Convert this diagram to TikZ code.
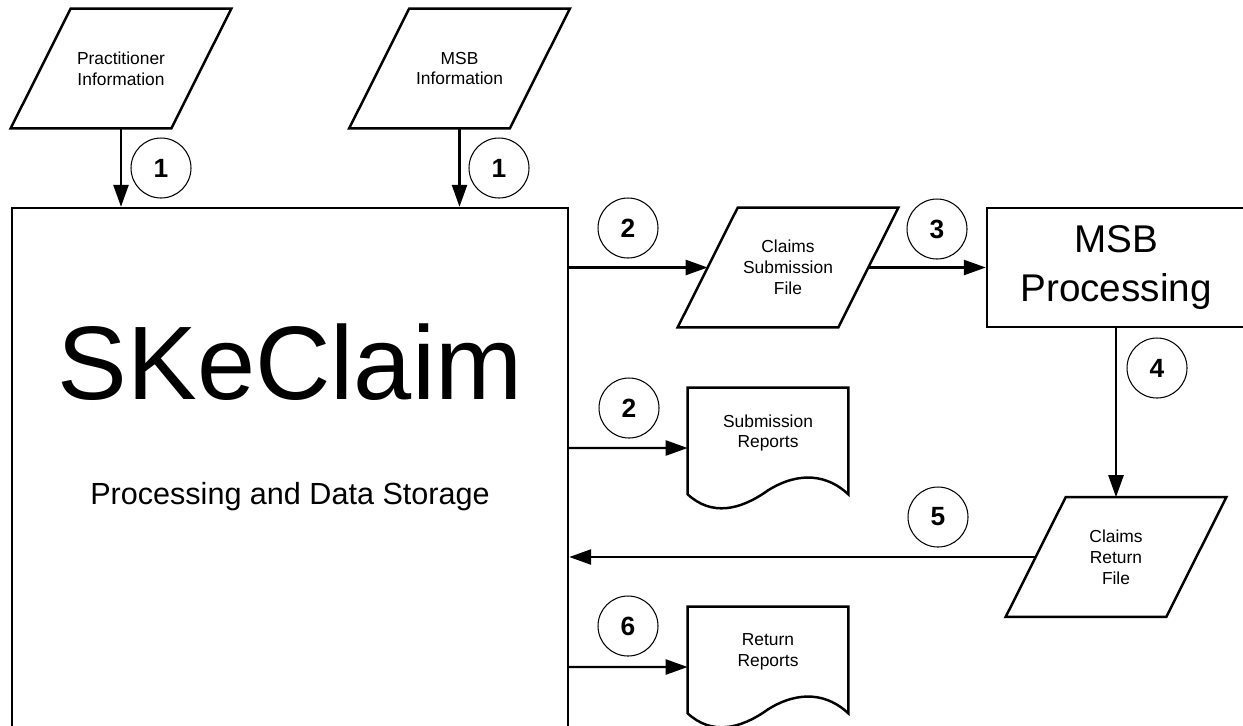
\documentclass[tikz,border=0pt]{standalone}
\usepackage{fontspec}
\setmainfont{Liberation Sans}
\usetikzlibrary{arrows.meta}

% parallelogram round a named node
\newcommand{\ioframe}[1]{%
    \draw[flow] ([xshift=0.6cm]#1.north west) -- ([xshift=0.6cm]#1.north east)
        -- ([xshift=-0.6cm]#1.south east) -- ([xshift=-0.6cm]#1.south west) -- cycle;}
% document with a wavy bottom round a named node
\newcommand{\docframe}[1]{%
    \draw[flow] (#1.north west) -- (#1.north east) -- ([shift={(0,16)}]#1.south east)
        .. controls +(-20,-19) and +(32,-20) .. ([shift={(0,12)}]#1.south)
        .. controls +(-28,20) and +(24,22) .. ([shift={(0,16)}]#1.south west) -- cycle;}

\begin{document}
\begin{tikzpicture}[
    x=0.02cm, y=-0.02cm,
    flow/.style={line width=1.4pt, line join=miter},
    arr/.style={flow, -{Triangle[length=0.44cm,width=0.3cm]}},
    io/.style={minimum width=3.2cm, minimum height=2.38cm, inner sep=0pt, align=center,
        font=\fontsize{9.9}{11.9}\selectfont},
    report/.style={minimum width=3.2cm, minimum height=1.8cm, inner sep=0pt, align=center,
        font=\fontsize{9.9}{11.9}\selectfont},
    tag/.style={circle, draw, line width=0.6pt, minimum size=1.2cm, inner sep=0pt,
        font=\fontsize{15}{15}\selectfont\bfseries},
]
    \path[use as bounding box, clip] (0,0) rectangle (1243,725);

    \node[draw, flow, minimum width=11.12cm, minimum height=11.04cm] (skc) at (290,484) {};
    \node[font=\fontsize{59.5}{60}\selectfont] (skctitle) at (290,362) {SKeClaim};
    \node[font=\fontsize{17.4}{20}\selectfont] (skcsub) at (290,497) {Processing and Data Storage};

    \node[io] (pinfo) at (121,68.5) {Practitioner\\Information};
    \node[io] (minfo) at (459.5,68.5) {MSB\\Information};
    \node[io] (psub) at (788,267.5) {Claims\\Submission\\File};
    \node[io] (pret) at (1116,557) {Claims\\Return\\File};
    \foreach \n in {pinfo,minfo,psub,pret}
        \ioframe{\n};

    \node[report] (subrep) at (768,433) {Submission\\Reports};
    \node[report] (retrep) at (768,652) {Return\\Reports};
    \docframe{subrep}
    \docframe{retrep}

    \node[draw, flow, minimum width=5.16cm, minimum height=2.38cm, align=center,
        font=\fontsize{22}{28}\selectfont] (msb) at (1116,267.5) {MSB\\Processing};

    \draw[arr] (pinfo) -- (pinfo |- skc.north);
    \draw[arr] (minfo) -- (minfo |- skc.north);
    \draw[arr] (skc.east |- psub) -- (psub);
    \draw[arr] (psub) -- (msb);
    \draw[arr] (msb) -- (pret);
    \draw[arr] (pret) -- (pret -| skc.east);
    \draw[arr] (skc.east |- subrep.west) ++(0,15) -- ([yshift=-0.3cm]subrep.west);
    \draw[arr] (skc.east |- retrep.west) ++(0,15) -- ([yshift=-0.3cm]retrep.west);

    \foreach \name/\pos/\num in {t1a/{161,168}/1, t1b/{499,168}/1, t2a/{628,228}/2,
        t3/{937,229}/3, t4/{1157,368}/4, t2b/{629,408}/2, t5/{938,517}/5, t6/{628,626}/6}
        \node[tag] (\name) at (\pos) {\num};
\end{tikzpicture}
\end{document}
